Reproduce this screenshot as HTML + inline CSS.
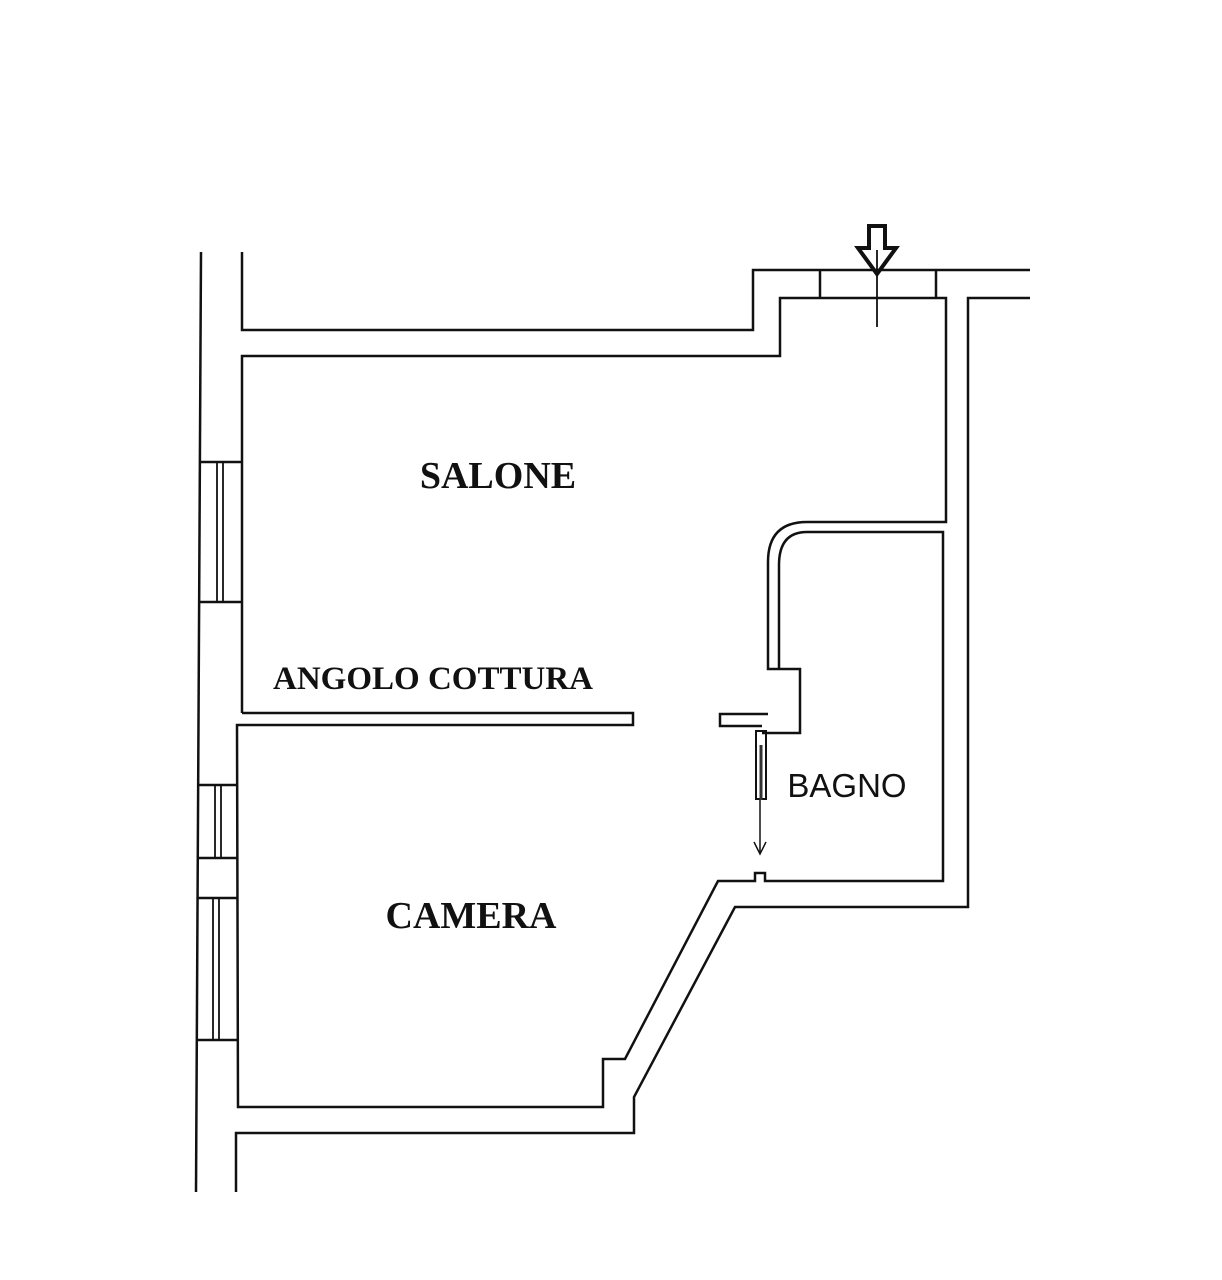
<!DOCTYPE html>
<html><head><style>
html,body{margin:0;padding:0;background:#fff;}
svg{display:block}
.t{font-family:"Liberation Serif",serif;font-weight:bold;fill:#111}
</style></head><body>
<svg width="1222" height="1280" viewBox="0 0 1222 1280" xmlns="http://www.w3.org/2000/svg">
<g fill="none" stroke="#111" stroke-width="2.5" stroke-linejoin="miter">
<line x1="201" y1="252" x2="196" y2="1192"/>
<polyline points="242,252 242,330 753,330 753,270 1030,270"/>
<polyline points="242,713 242,356 780,356 780,298 946,298 946,522 807,522"/>
<path d="M807,522 Q768,522 768,562 L768,669 L800,669 L800,733 L762,733"/>
<path d="M807,532 Q779,532 779,565 L779,669"/>
<polyline points="1030,298 968,298 968,907 735,907 634,1097 634,1133 236,1133 236,1192"/>
<polyline points="807,532 943,532 943,881 765,881 765,873 755,873 755,881 718,881 625,1059 603,1059 603,1107 238,1107 237,725 633,725 633,713 242,713"/>
<polyline points="768,714 720,714 720,726 762,726"/>
<line x1="820" y1="270" x2="820" y2="298"/>
<line x1="936" y1="270" x2="936" y2="298"/>
<line x1="877" y1="250" x2="877" y2="327" stroke-width="1.8"/>
<line x1="200" y1="462" x2="242" y2="462"/><line x1="200" y1="602" x2="242" y2="602"/>
<line x1="217" y1="462" x2="217" y2="602" stroke-width="1.8"/><line x1="223" y1="462" x2="223" y2="602" stroke-width="1.8"/>
<line x1="199" y1="785" x2="238" y2="785"/><line x1="199" y1="858" x2="238" y2="858"/>
<line x1="215" y1="785" x2="215" y2="858" stroke-width="1.8"/><line x1="221" y1="785" x2="221" y2="858" stroke-width="1.8"/>
<line x1="198" y1="898" x2="238" y2="898"/><line x1="198" y1="1040" x2="238" y2="1040"/>
<line x1="213" y1="898" x2="213" y2="1040" stroke-width="1.8"/><line x1="219" y1="898" x2="219" y2="1040" stroke-width="1.8"/>
<rect x="756" y="731" width="10" height="68" stroke-width="2"/>
<line x1="761" y1="745" x2="761" y2="800" stroke="#333" stroke-width="3"/>
<line x1="760" y1="800" x2="760" y2="853" stroke-width="1.5"/>
<polyline points="754,842 760,854 766,842" stroke-width="1.5"/>
</g>
<path d="M869,226 L885,226 L885,248 L896,248 L877,274 L858,248 L869,248 Z" fill="none" stroke="#111" stroke-width="4"/>
<text class="t" x="498" y="488" font-size="38" text-anchor="middle">SALONE</text>
<text class="t" x="433" y="689" font-size="33" text-anchor="middle">ANGOLO COTTURA</text>
<text class="t" x="471" y="928" font-size="38" text-anchor="middle">CAMERA</text>
<text x="847" y="797" font-size="33" text-anchor="middle" font-family="Liberation Sans, sans-serif" fill="#111">BAGNO</text>
</svg>
</body></html>
